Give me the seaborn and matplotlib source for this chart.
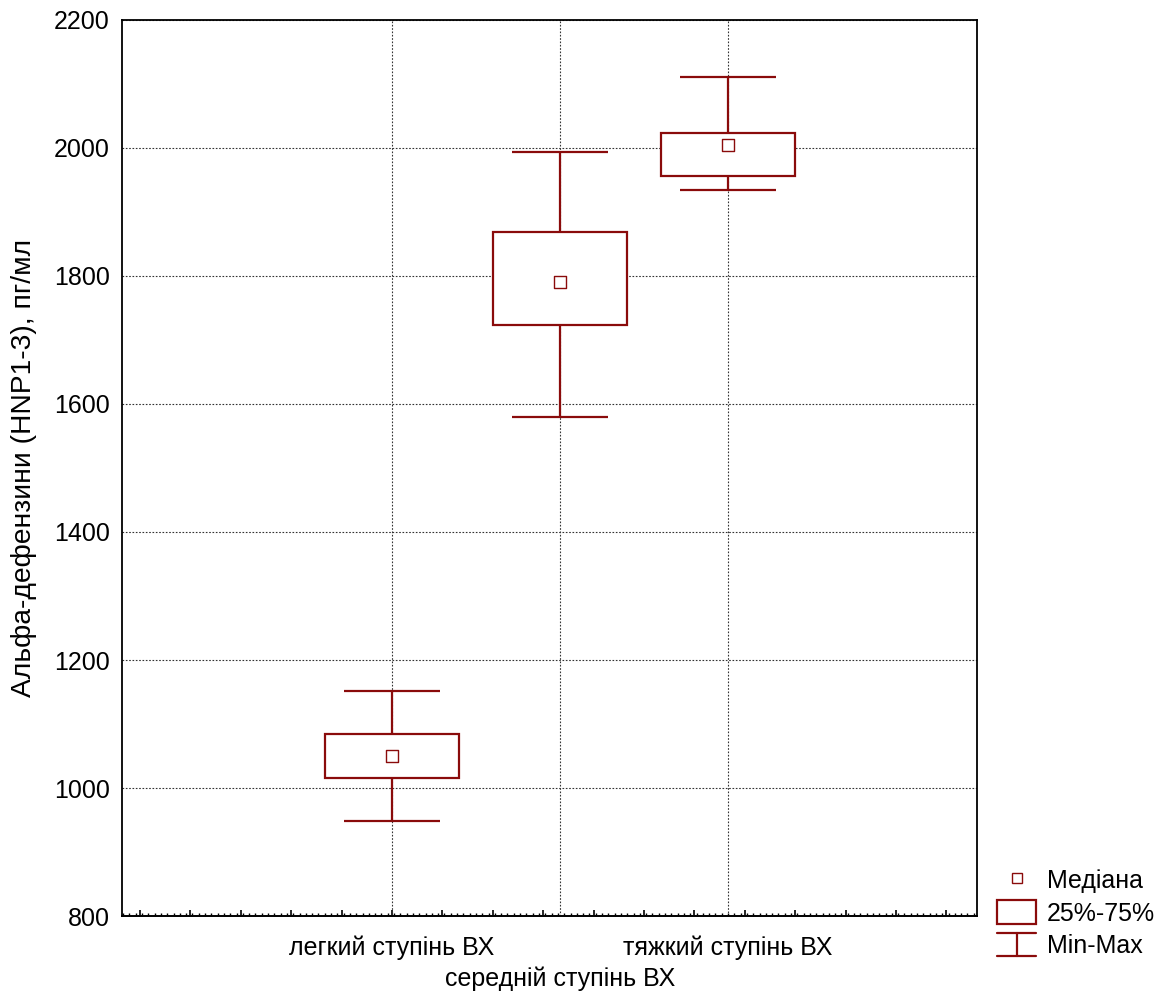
import numpy as np
import pandas as pd
import matplotlib
matplotlib.use("Agg")
import matplotlib.pyplot as plt
from matplotlib.lines import Line2D
from matplotlib.patches import Patch
from matplotlib.legend_handler import HandlerBase
import seaborn as sns

# Summary statistics per severity group
groups = ["легкий ступінь ВХ", "середній ступінь ВХ", "тяжкий ступінь ВХ"]
mins = [949, 1580, 1935]
q1 = [1016, 1724, 1956]
medians = [1050, 1791, 2005]
q3 = [1084, 1868, 2024]
maxs = [1152, 1994, 2111]

y_ticks = [800, 1000, 1200, 1400, 1600, 1800, 2000, 2200]
legend_labels = ["Медіана", "25%-75%", "Min-Max"]
y_label = "Альфа-дефензини (HNP1-3), пг/мл"

RED = "#8a0b0b"

sns.set_style("white")
plt.rcParams["font.family"] = ["Liberation Sans", "DejaVu Sans"]
plt.rcParams["font.size"] = 18
for key in ("text.color", "axes.labelcolor", "xtick.color", "ytick.color"):
    plt.rcParams[key] = "black"

# Five-number summaries as long-form data: with whis=inf the box spans Q1..Q3
# and the whiskers reach min..max exactly.
rows = []
for g, a, b, c, d, e in zip(groups, mins, q1, medians, q3, maxs):
    for v in (a, b, c, d, e):
        rows.append({"group": g, "value": v})
df = pd.DataFrame(rows)
med_df = pd.DataFrame({"group": groups, "value": medians})

fig = plt.figure(figsize=(11.64, 9.97), dpi=100)
ax = fig.add_axes([122 / 1164, 1 - 916 / 997, 855 / 1164, 896 / 997])

sns.boxplot(data=df, x="group", y="value", order=groups, whis=np.inf,
            width=0.8, color="white", saturation=1, linecolor=RED,
            linewidth=1.6, showcaps=False,
            medianprops={"visible": False}, ax=ax)

pos = np.arange(len(groups))
cap_half = 0.283
ax.hlines(maxs, pos - cap_half, pos + cap_half, color=RED, lw=1.6, zorder=3)
ax.hlines(mins, pos - cap_half, pos + cap_half, color=RED, lw=1.6, zorder=3)

sns.stripplot(data=med_df, x="group", y="value", order=groups, jitter=False,
              marker="s", size=8.5, color="white", edgecolor=RED,
              linewidth=1.0, zorder=4, ax=ax)

ax.set_xlim(-1.607, 3.482)
ax.set_ylim(800, 2200)
ax.set_yticks(y_ticks)
ax.set_xticks(pos)
ax.set_xticklabels(groups, fontsize=18)
ax.set_xlabel("")
ax.set_ylabel(y_label, fontsize=20.3)
ax.yaxis.set_label_coords(-0.099, 0.5)

ax.set_axisbelow(True)
ax.grid(True, which="major", color="#333333", linestyle=(0, (1.5, 1.5)), linewidth=0.8)
ax.tick_params(axis="x", which="major", length=0, pad=14)
ax.tick_params(axis="y", which="major", direction="in", length=3, width=1.2,
               pad=9, labelsize=18)
# The middle category label sits one row lower
ax.xaxis.get_major_ticks()[1].set_pad(36)
for s in ax.spines.values():
    s.set_visible(True)
    s.set_color("black")
    s.set_linewidth(1.3)

# Fine graduation along the bottom edge
sec = ax.secondary_xaxis("bottom")
sec.set_xticks(np.arange(-1.5, 3.5, 0.3))
sec.set_xticks(np.arange(-1.6, 3.49, 0.0375), minor=True)
sec.tick_params(which="major", direction="in", length=4.5, width=1.2, labelbottom=False)
sec.tick_params(which="minor", direction="in", length=2, width=1.0)
sec.spines["bottom"].set_linewidth(1.3)


class HandlerRange(HandlerBase):
    def create_artists(self, legend, orig_handle, xdescent, ydescent,
                       width, height, fontsize, trans):
        x0, x1 = -xdescent, -xdescent + width
        y0, y1 = -ydescent, -ydescent + height
        xm = 0.5 * (x0 + x1)
        lines = [Line2D([x0, x1], [y1, y1]), Line2D([xm, xm], [y0, y1]),
                 Line2D([x0, x1], [y0, y0])]
        for ln in lines:
            ln.set_color(orig_handle.get_color())
            ln.set_linewidth(orig_handle.get_linewidth())
            ln.set_transform(trans)
        return lines


h_med = Line2D([], [], marker="s", linestyle="none", markerfacecolor="white",
               markeredgecolor=RED, markersize=7.5, markeredgewidth=1.0)
h_box = Patch(facecolor="white", edgecolor=RED, linewidth=1.6)
h_rng = Line2D([], [], color=RED, linewidth=1.6)

fig.legend([h_med, h_box, h_rng], legend_labels,
           handler_map={h_rng: HandlerRange()},
           loc="center left", bbox_to_anchor=(997 / 1164, 1 - 913 / 997),
           frameon=False, fontsize=18, borderpad=0, borderaxespad=0,
           handlelength=1.56, handleheight=1.05, handletextpad=0.45,
           labelspacing=0.3)

fig.savefig("out.png", dpi=100)
